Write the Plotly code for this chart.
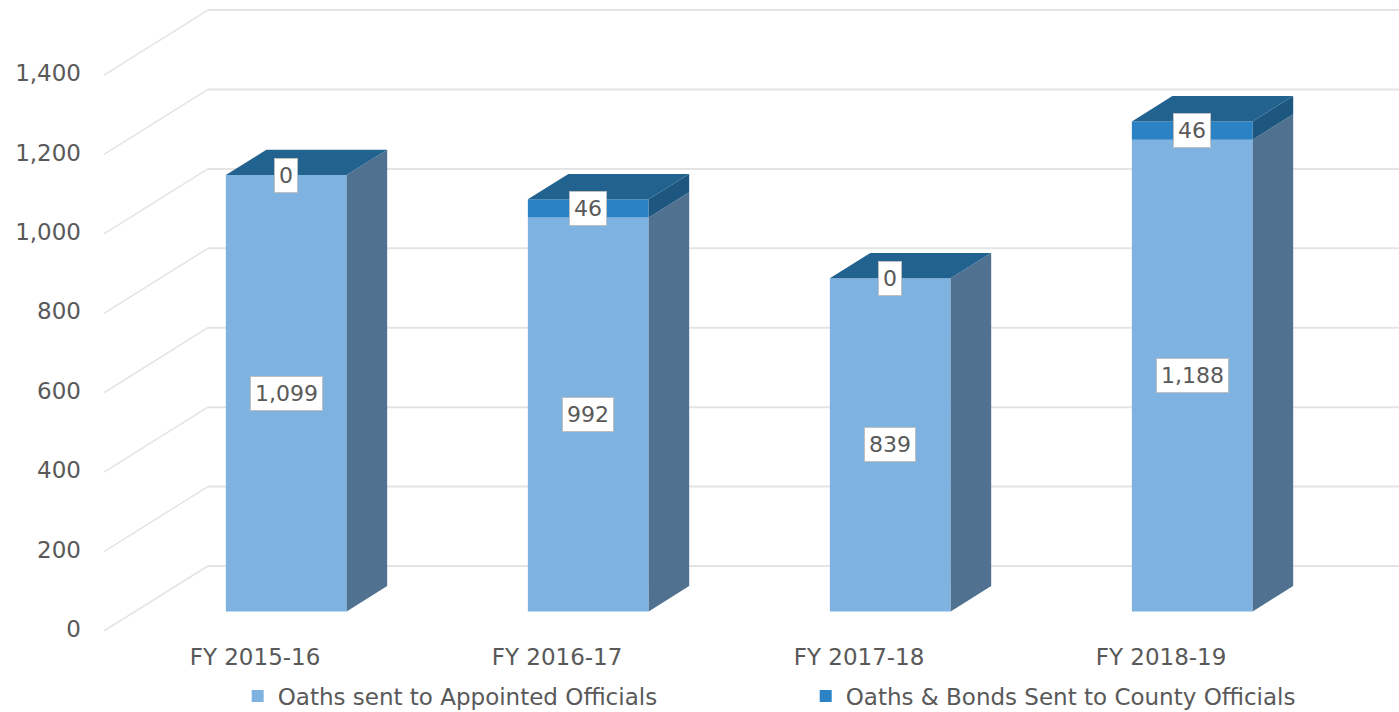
import plotly.graph_objects as go

categories = ["FY 2015-16", "FY 2016-17", "FY 2017-18", "FY 2018-19"]
appointed = [1099, 992, 839, 1188]
county = [0, 46, 0, 46]
y_ticks = [0, 200, 400, 600, 800, 1000, 1200, 1400]
series_names = ["Oaths sent to Appointed Officials", "Oaths & Bonds Sent to County Officials"]

C_LIGHT, C_DARK, C_SIDE, C_SIDE_DARK, C_TOP = "#7DB2E1", "#2B82C5", "#507290", "#1D5780", "#22628F"
C_TEXT, C_GRID = "#595959", "#E4E4E4"
FONT = "DejaVu Sans"

DX, DY = 0.344, 163.7      # full floor depth in axis units
FLOOR, DEPTH = 0.31, 0.39  # bar position and depth as a share of the floor depth
BAR_SHIFT = 0.1035         # bar centre to the right of its category tick
WIDTH = 0.4
idx = list(range(len(categories)))
xc = [i + BAR_SHIFT for i in idx]
base = FLOOR * DY - 1.5
ddx, ddy = DEPTH * DX, DEPTH * DY

fig = go.Figure()
fig.add_bar(x=xc, y=appointed, base=[base] * 4, width=WIDTH, name=series_names[0],
            marker=dict(color=C_LIGHT, line=dict(width=0)))
fig.add_bar(x=xc, y=county, base=[base + a for a in appointed], width=WIDTH, name=series_names[1],
            marker=dict(color=C_DARK, line=dict(width=0)))


def face(xs, ys, color):
    fig.add_scatter(x=xs, y=ys, mode="lines", fill="toself", fillcolor=color,
                    line=dict(width=0), showlegend=False, hoverinfo="skip")


for x, a, c in zip(xc, appointed, county):
    l, r = x - WIDTH / 2, x + WIDTH / 2
    y1 = base + a
    y2 = y1 + c
    face([r, r + ddx, r + ddx, r, r], [base, base + ddy, y1 + ddy, y1, base], C_SIDE)
    if c:
        face([r, r + ddx, r + ddx, r, r], [y1, y1 + ddy, y2 + ddy, y2, y1], C_SIDE_DARK)
    face([l, l + ddx, r + ddx, r, l], [y2, y2 + ddy, y2 + ddy, y2, y2], C_TOP)

shapes = []
for t in y_ticks:
    shapes.append(dict(type="line", layer="below", xref="x", yref="y", x0=-0.5, y0=t, x1=-0.5 + DX, y1=t + DY,
                       line=dict(color=C_GRID, width=1.5)))
    shapes.append(dict(type="line", layer="below", xref="x", yref="y", x0=-0.5 + DX, y0=t + DY, x1=3.79, y1=t + DY,
                       line=dict(color=C_GRID, width=2)))

annotations = []
for x, a, c in zip(xc, appointed, county):
    for val, mid in ((a, base + a / 2), (c, base + a + c / 2)):
        annotations.append(dict(x=x, y=mid, xref="x", yref="y", text=f"{val:,}", showarrow=False,
                                bgcolor="#FFFFFF", bordercolor="#BFBFBF", borderwidth=1, borderpad=4,
                                font=dict(family=FONT, size=22, color=C_TEXT)))

fig.update_layout(
    width=1399, height=712, margin=dict(l=100, r=0, t=5, b=81, autoexpand=False),
    paper_bgcolor="white", plot_bgcolor="white", barmode="overlay",
    shapes=shapes, annotations=annotations,
    font=dict(family=FONT, color=C_TEXT),
    xaxis=dict(range=[-0.5132, 3.788], tickvals=idx, ticktext=categories, showgrid=False, zeroline=False,
               showline=False, ticks="", ticklabelstandoff=10, tickfont=dict(family=FONT, size=23, color=C_TEXT)),
    yaxis=dict(range=[0, 1576.4], tickvals=y_ticks, tickformat=",d", showgrid=False, zeroline=False,
               showline=False, ticks="", ticklabelstandoff=18, ticklabelshift=-2,
               tickfont=dict(family=FONT, size=23, color=C_TEXT)),
    legend=dict(orientation="h", x=0.106, xanchor="left", y=-0.104, yanchor="middle", entrywidth=523,
                entrywidthmode="pixels", traceorder="normal",
                font=dict(family=FONT, size=23, color=C_TEXT), bgcolor="rgba(0,0,0,0)"),
)

fig.write_html("out.html", config={"displayModeBar": False}, post_script="document.body.style.margin='0';")
